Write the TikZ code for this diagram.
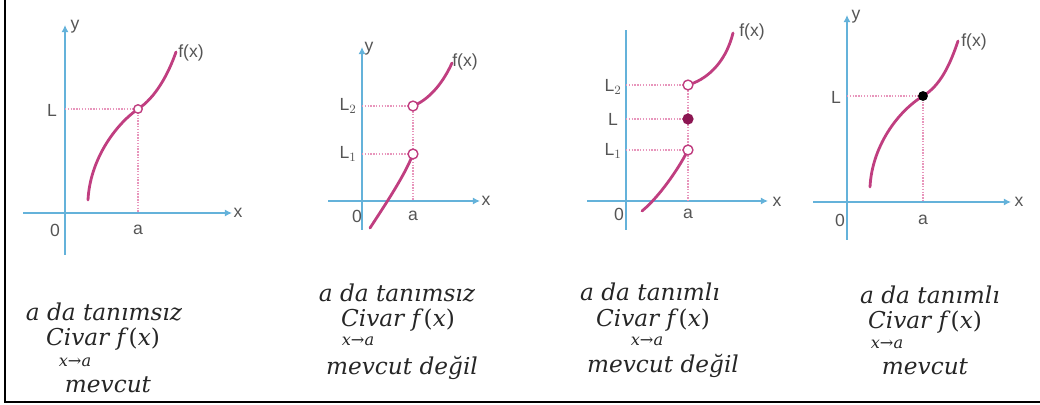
\documentclass[tikz,border=0pt]{standalone}
\usepackage{fontspec}
\setsansfont{Liberation Sans}
\newfontfamily\capfont{DejaVu Serif}
\usepackage{tikz}
\usetikzlibrary{arrows.meta,positioning,calc}
\definecolor{axblue}{RGB}{100,178,218}
\definecolor{crvpink}{RGB}{192,62,128}
\definecolor{guidepink}{RGB}{232,150,188}
\definecolor{holdot}{RGB}{140,22,82}
\definecolor{lblgray}{RGB}{85,85,85}
\newcommand\fx{f\textup{(}x\textup{)}}
\tikzset{
  axis/.style  ={draw=axblue,line width=2pt,-{Latex[length=5pt,width=5pt]}},
  axisn/.style ={draw=axblue,line width=2pt},
  guide/.style ={draw=guidepink,densely dotted,line width=1pt},
  crv/.style   ={draw=crvpink,line width=2pt,line cap=round},
  hole/.style  ={circle,draw=crvpink,fill=white,line width=1pt,inner sep=0pt,minimum size=7pt},
  full/.style  ={circle,fill=holdot,inner sep=0pt,minimum size=8pt},
  lbl/.style   ={font=\sffamily\fontsize{12.5}{14}\selectfont,text=lblgray,inner sep=1pt},
  captxt/.style={font=\capfont\fontsize{16.5}{19}\selectfont\itshape,text=black!85,inner sep=0pt},
  subtxt/.style={font=\capfont\fontsize{11.5}{13}\selectfont\itshape,text=black!85,inner sep=0pt},
}

\begin{document}
\begin{tikzpicture}[x=0.025cm,y=-0.025cm]
  \useasboundingbox (0,0) rectangle (1040,405);
  \draw[line width=1.4pt] (5,0) -- (5,402) -- (1040,402);

  % --- panel 1: not defined at a, limit exists
  \coordinate (xs1) at (23,213); \coordinate (xe1) at (232,213);
  \coordinate (ys1) at (65,255); \coordinate (ye1) at (65,25);
  \coordinate (l1) at (65,109);  \coordinate (a1) at (138,213);
  \coordinate (p1) at (138,109);
  \draw[axis] (xs1) -- (xe1); \draw[axis] (ys1) -- (ye1);
  \draw[guide] (l1) -- (p1) -- (a1);
  \draw[crv] (88,200) .. controls (90,160) and (115,125) .. (p1)
             .. controls (155,98) and (168,75) .. (176,52);
  \node[hole,minimum size=6pt] (h1) at (p1){};
  \node[lbl] (y1) at (75,27){y};    \node[lbl] (x1) at (238,213){x};
  \node[lbl] (o1) at (55,230){0};   \node[lbl] (n1) at (138,230){a};
  \node[lbl] (L1) at (52,110){L};   \node[lbl] (f1) at (191,53){f(x)};

  % --- panel 2: jump, not defined at a
  \coordinate (xs2) at (328,201); \coordinate (xe2) at (480,201);
  \coordinate (ys2) at (362,230); \coordinate (ye2) at (362,47);
  \coordinate (u2) at (362,106);  \coordinate (d2) at (362,154);
  \coordinate (a2) at (413,201);
  \coordinate (pu2) at (413,106); \coordinate (pd2) at (413,154);
  \draw[axis] (xs2) -- (xe2); \draw[axis] (ys2) -- (ye2);
  \draw[guide] (u2) -- (pu2) -- (a2); \draw[guide] (d2) -- (pd2);
  \draw[crv] (370,228) .. controls (385,205) and (405,175) .. (pd2);
  \draw[crv] (pu2) .. controls (428,100) and (442,85) .. (452,63);
  \node[hole] (hu2) at (pu2){}; \node[hole] (hd2) at (pd2){};
  \node[lbl] (y2) at (369,49){y};   \node[lbl] (x2) at (486,201){x};
  \node[lbl] (o2) at (357,216){0};  \node[lbl] (n2) at (413,216){a};
  \node[lbl] (L22) at (348,106){L$_2$}; \node[lbl] (L12) at (348,154){L$_1$};
  \node[lbl] (f2) at (465,62){f(x)};

  % --- panel 3: jump, defined at a
  \coordinate (xs3) at (587,201); \coordinate (xe3) at (768,201);
  \coordinate (ys3) at (626,230); \coordinate (ye3) at (626,30);
  \coordinate (u3) at (626,85);   \coordinate (m3) at (626,119);
  \coordinate (d3) at (626,150);  \coordinate (a3) at (688,201);
  \coordinate (pu3) at (688,85);  \coordinate (pm3) at (688,119);
  \coordinate (pd3) at (688,150);
  \draw[axis] (xs3) -- (xe3); \draw[axisn] (ys3) -- (ye3);
  \draw[guide] (u3) -- (pu3) -- (a3);
  \draw[guide] (m3) -- (pm3); \draw[guide] (d3) -- (pd3);
  \draw[crv] (642,211) .. controls (658,198) and (678,170) .. (pd3);
  \draw[crv] (pu3) .. controls (705,80) and (725,65) .. (733,33);
  \node[hole] (hu3) at (pu3){}; \node[hole] (hd3) at (pd3){};
  \node[full] (dm3) at (pm3){};
  \node[lbl] (x3) at (777,202){x};
  \node[lbl] (o3) at (619,214){0};  \node[lbl] (n3) at (688,214){a};
  \node[lbl] (L23) at (613,87){L$_2$}; \node[lbl] (L3) at (613,119){L};
  \node[lbl] (L13) at (613,151){L$_1$};
  \node[lbl] (f3) at (752,32){f(x)};

  % --- panel 4: continuous at a
  \coordinate (xs4) at (813,202); \coordinate (xe4) at (1011,202);
  \coordinate (ys4) at (847,240); \coordinate (ye4) at (847,15);
  \coordinate (l4) at (847,96);   \coordinate (a4) at (923,202);
  \coordinate (p4) at (923,96);
  \draw[axis] (xs4) -- (xe4); \draw[axis] (ys4) -- (ye4);
  \draw[guide] (l4) -- (p4) -- (a4);
  \draw[crv] (870,187) .. controls (872,147) and (897,112) .. (p4)
             .. controls (940,86) and (950,65) .. (958,41);
  \node[full,fill=black,minimum size=7pt] (d4) at (p4){};
  \node[lbl] (y4) at (856,17){y};   \node[lbl] (x4) at (1019,202){x};
  \node[lbl] (o4) at (840,220){0};  \node[lbl] (n4) at (923,220){a};
  \node[lbl] (L4) at (836,97){L};   \node[lbl] (f4) at (974,42){f(x)};

  % captions
  \node[captxt] (t1a) at (104,312){a da tanımsız};
  \node[captxt] (t1b) at (103,339){Civar \fx};
  \node[subtxt] (t1c) at (75,362){x→a};
  \node[captxt] (t1d) at (108,385){mevcut};
  \node[captxt] (t2a) at (397,293){a da tanımsız};
  \node[captxt] (t2b) at (398,320){Civar \fx};
  \node[subtxt] (t2c) at (358,341){x→a};
  \node[captxt] (t2d) at (402,368){mevcut değil};
  \node[captxt] (t3a) at (650,292){a da tanımlı};
  \node[captxt] (t3b) at (653,320){Civar \fx};
  \node[subtxt] (t3c) at (647,341){x→a};
  \node[captxt] (t3d) at (663,366){mevcut değil};
  \node[captxt] (t4a) at (930,295){a da tanımlı};
  \node[captxt] (t4b) at (925,322){Civar \fx};
  \node[subtxt] (t4c) at (887,344){x→a};
  \node[captxt] (t4d) at (925,367){mevcut};
\end{tikzpicture}
\end{document}
